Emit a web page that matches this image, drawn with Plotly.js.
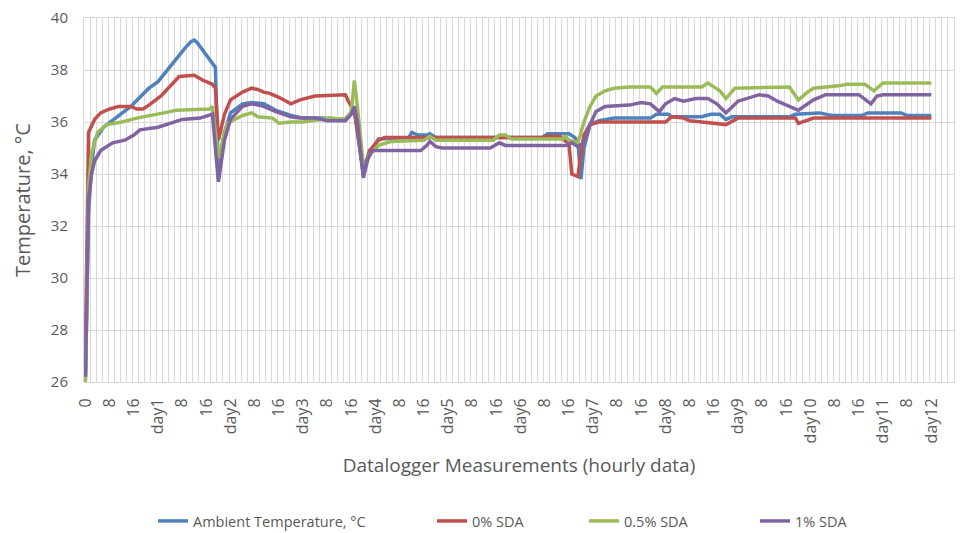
<!DOCTYPE html>
<html>
<head>
<meta charset="utf-8">
<script src="https://cdn.plot.ly/plotly-3.0.1.min.js"></script>
<style>html,body{margin:0;padding:0;background:#fff;}#chart{width:962px;height:533px;}</style>
</head>
<body>
<div id="chart"></div>
<script>
// ---- Data (measurement index = hour, temperature °C) ----
const seriesNames = ["Ambient Temperature, °C", "0% SDA", "0.5% SDA", "1% SDA"];

const ambientHours = [0,1,2,3,6,10,13,15,18,21,24,27,30,33,35,36,37,39,42,43,44,45,46,48,52,55,59,63,68,72,78,86,89,92,94,97,107,108,110,113,114,116,151,153,160,162,163,164,165,167,170,175,187,189,193,194,204,207,210,212,214,233,235,243,247,257,259,270,272,280];
const ambientTemp  = [26.2,32.5,34.3,35.3,35.8,36.15,36.4,36.6,36.95,37.3,37.55,38.0,38.45,38.85,39.1,39.15,39.05,38.75,38.3,38.1,33.8,34.8,35.6,36.35,36.7,36.75,36.7,36.45,36.25,36.15,36.15,36.1,36.5,33.9,34.8,35.35,35.4,35.6,35.5,35.5,35.55,35.4,35.4,35.55,35.55,35.4,35.2,33.8,35.0,35.9,36.05,36.15,36.15,36.3,36.3,36.2,36.2,36.3,36.3,36.1,36.2,36.2,36.3,36.35,36.25,36.25,36.35,36.35,36.25,36.25];

const sda0Hours = [0,1,3,5,8,11,15,17,19,21,25,28,31,36,39,42,43,44,46,48,52,55,57,59,61,64,68,71,76,86,87,89,92,94,97,99,151,153,157,159,160,161,163,164,165,167,170,192,194,198,200,204,212,216,235,236,241,280];
const sda0Temp  = [27.5,35.6,36.1,36.35,36.5,36.6,36.6,36.5,36.5,36.65,37.0,37.4,37.75,37.8,37.6,37.45,37.3,35.3,36.3,36.85,37.15,37.3,37.25,37.15,37.1,36.95,36.7,36.85,37.0,37.05,36.8,36.4,34.1,34.9,35.3,35.4,35.4,35.45,35.45,35.25,35.2,34.0,33.9,34.8,35.5,35.9,36.0,36.0,36.2,36.15,36.05,36.0,35.9,36.15,36.15,35.95,36.15,36.15];

const sda05Hours = [0,1,2,4,7,12,17,22,28,30,41,42,44,46,47,52,55,57,62,64,68,72,81,86,88,89,90,92,94,97,101,112,114,116,135,137,139,141,158,159,160,163,165,167,169,172,175,180,187,189,191,204,206,208,210,212,215,233,236,239,241,250,252,258,261,264,280];
const sda05Temp  = [26.0,33.5,34.8,35.6,35.9,36.0,36.15,36.25,36.4,36.45,36.5,36.6,34.6,35.6,35.95,36.25,36.35,36.2,36.15,35.95,36.0,36.0,36.15,36.1,36.4,37.6,36.6,34.3,34.75,35.1,35.25,35.3,35.45,35.3,35.3,35.5,35.5,35.35,35.35,35.45,35.3,35.2,36.0,36.6,37.0,37.2,37.3,37.35,37.35,37.1,37.35,37.35,37.5,37.35,37.2,36.9,37.3,37.35,36.85,37.15,37.3,37.4,37.45,37.45,37.2,37.5,37.5];

const sda1Hours = [0,1,2,3,5,9,13,16,18,24,28,32,38,41,42,44,46,48,52,55,59,63,68,71,76,80,86,88,89,90,92,93,95,111,113,114,116,118,134,137,139,159,161,163,165,167,169,172,180,184,187,190,192,195,198,202,206,209,212,216,222,223,226,229,236,241,245,256,260,262,264,280];
const sda1Temp  = [26.2,33.0,34.0,34.5,34.9,35.2,35.3,35.5,35.7,35.8,35.95,36.1,36.15,36.25,36.3,33.7,35.3,36.1,36.6,36.7,36.6,36.4,36.2,36.15,36.15,36.05,36.05,36.3,36.6,36.0,33.85,34.5,34.9,34.9,35.1,35.25,35.05,35.0,35.0,35.2,35.1,35.1,35.2,35.05,35.2,35.9,36.4,36.6,36.65,36.75,36.7,36.4,36.7,36.9,36.8,36.9,36.9,36.7,36.35,36.8,37.0,37.05,37.0,36.8,36.45,36.85,37.05,37.05,36.7,37.0,37.05,37.05];

// tick labels every 8 measurements
const tickHours = [0,8,16,24,32,40,48,56,64,72,80,88,96,104,112,120,128,136,144,152,160,168,176,184,192,200,208,216,224,232,240,248,256,264,272,280];
const tickLabels = ["0","8","16","day1","8","16","day2","8","16","day3","8","16","day4","8","16","day5","8","16","day6","8","16","day7","8","16","day8","8","16","day9","8","16","day10","8","16","day11","8","day12"];

// ---- Chart ----
const colors = ["#4F81BD", "#C0504D", "#9BBB59", "#8064A2"];
const xs = [ambientHours, sda0Hours, sda05Hours, sda1Hours];
const ys = [ambientTemp, sda0Temp, sda05Temp, sda1Temp];
const legendIds = ["legend", "legend2", "legend3", "legend4"];

const traces = seriesNames.map((n, i) => ({
  type: "scatter", mode: "lines", name: n,
  x: xs[i], y: ys[i], legend: legendIds[i],
  line: {color: colors[i], width: 3.5}
}));

const FONT = "Open Sans, Lato, sans-serif";
// legend left edges in container fraction (962 px wide)
const legendX = [153/962, 432/962, 584/962, 755/962];
function mkLegend(x) {
  return {orientation: "h", xref: "container", yref: "container",
          x: x, xanchor: "left", y: 12/533, yanchor: "middle",
          bgcolor: "rgba(0,0,0,0)", font: {size: 14.5, color: "#595959"}};
}

const layout = {
  width: 962, height: 533,
  margin: {l: 84, r: 8, t: 18, b: 151},
  paper_bgcolor: "#fff", plot_bgcolor: "#fff",
  showlegend: true,
  font: {family: FONT, color: "#595959", size: 14},
  xaxis: {
    range: [-0.5, 287.5], automargin: false,
    tickmode: "array", tickvals: tickHours, ticktext: tickLabels,
    tickangle: -90, tickfont: {size: 16, color: "#595959"},
    showgrid: false, zeroline: false,
    showline: true, linecolor: "#d9d9d9", linewidth: 1, mirror: true,
    ticks: "", ticklabelstandoff: 9,
    minor: {tickmode: "linear", tick0: -0.5, dtick: 2, showgrid: true, gridcolor: "#d9d9d9", gridwidth: 1, ticks: ""},
    title: {text: "Datalogger Measurements (hourly data)", font: {size: 19, color: "#595959"}, standoff: 16}
  },
  yaxis: {
    range: [26, 40], dtick: 2, tick0: 26, automargin: false,
    tickfont: {size: 15, color: "#595959"},
    showgrid: true, gridcolor: "#d9d9d9", gridwidth: 1,
    zeroline: false, showline: true, linecolor: "#d9d9d9", mirror: true,
    ticks: "", ticklabelstandoff: 12,
    title: {text: "Temperature, °C", font: {size: 20, color: "#595959"}, standoff: 14}
  },
  legend: mkLegend(legendX[0]),
  legend2: mkLegend(legendX[1]),
  legend3: mkLegend(legendX[2]),
  legend4: mkLegend(legendX[3])
};

Plotly.newPlot("chart", traces, layout, {displayModeBar: false, staticPlot: true});
</script>
</body>
</html>
